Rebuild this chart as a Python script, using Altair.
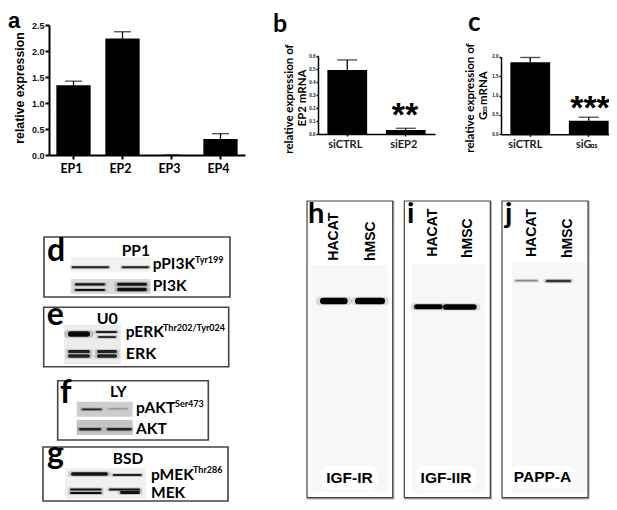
import altair as alt
import pandas as pd

# ---- chart values ----
a_categories = ["EP1", "EP2", "EP3", "EP4"]
a_values = [1.34, 2.24, 0.0, 0.31]
a_tops = [1.42, 2.37, 0.0, 0.41]
a_ticks = [0.0, 0.5, 1.0, 1.5, 2.0, 2.5]

b_categories = ["siCTRL", "siEP2"]
b_values = [0.492, 0.03]
b_tops = [0.57, 0.044]
b_ticks = [0.0, 0.1, 0.2, 0.3, 0.4, 0.5, 0.6]

c_categories = ["siCTRL", "siG"]
c_values = [1.855, 0.35]
c_tops = [1.98, 0.44]
c_ticks = [0.0, 0.5, 1.0, 1.5, 2.0]

OX, OY = 8, 8
SANS = "Liberation Sans"
LATO = "Lato"
layers = []


def bar_panel(cats, vals, tops, ticks, ymax, x_rng, y_rng, pi, po, cap, lab_size, lab_font,
              lab_weight, tick_size, tick_font_size, lab_pad, dom_w, lab_off, lab_color="#000"):
    df = pd.DataFrame({"cat": cats, "val": vals, "top": tops})
    xs = alt.Scale(domain=cats, range=[x_rng[0] - OX, x_rng[1] - OX], paddingInner=pi, paddingOuter=po)
    ys = alt.Scale(domain=[0, ymax], range=[y_rng[0] - OY, y_rng[1] - OY], nice=False)
    x_axis = alt.Axis(orient="bottom", offset=(y_rng[0] - OY - H), title=None, labelAngle=0,
                      labelFont=lab_font, labelFontSize=lab_size, labelFontWeight=lab_weight,
                      labelPadding=lab_pad, labelColor=lab_color, domainColor="#000", domainWidth=dom_w,
                      tickColor="#000", tickWidth=dom_w, tickSize=tick_size, grid=False,
                      labelOffset=lab_off)
    y_axis = alt.Axis(orient="left", offset=-(x_rng[0] - OX), title=None, values=ticks, format=".1f",
                      labelFont=SANS, labelFontSize=tick_font_size, labelFontWeight="bold",
                      labelPadding=1, labelColor="#111", domainColor="#000", domainWidth=dom_w,
                      tickColor="#000", tickWidth=dom_w, tickSize=tick_size, grid=False)
    base = alt.Chart(df)
    layers.append(base.mark_bar(color="#000").encode(
        x=alt.X("cat:N", scale=xs, axis=x_axis, sort=cats),
        y=alt.Y("val:Q", scale=ys, axis=y_axis)))
    layers.append(base.mark_rule(color="#000", strokeWidth=1.3).encode(
        x=alt.X("cat:N", scale=xs, axis=None, sort=cats),
        y=alt.Y("val:Q", scale=ys, axis=None),
        y2="top:Q"))
    layers.append(base.mark_tick(color="#000", size=cap, thickness=1.3).encode(
        x=alt.X("cat:N", scale=xs, axis=None, sort=cats),
        y=alt.Y("top:Q", scale=ys, axis=None)))


def T(x, y, s, size=12, font=LATO, weight="bold", align="left", angle=0, color="#000", baseline="alphabetic"):
    layers.append(alt.Chart().mark_text(text=s, fontSize=size, font=font, fontWeight=weight, align=align,
                                        angle=angle, color=color, baseline=baseline).encode(
        x=alt.value(x - OX), y=alt.value(y - OY)))


def R(x0, y0, x1, y1, fill="#eee", stroke=None, sw=0, radius=0):
    kw = {"fill": fill}
    if stroke:
        kw.update(stroke=stroke, strokeWidth=sw)
    if radius:
        kw["cornerRadius"] = radius
    layers.append(alt.Chart().mark_rect(**kw).encode(
        x=alt.value(x0 - OX), x2=alt.value(x1 - OX), y=alt.value(y0 - OY), y2=alt.value(y1 - OY)))


def B(x0, x1, y, thick=3, color="#111", halo=0.2):
    if halo:
        layers.append(alt.Chart().mark_rule(color=color, opacity=halo, strokeWidth=thick + 2, strokeCap="round").encode(
            x=alt.value(x0 - OX), x2=alt.value(x1 - OX), y=alt.value(y - OY)))
    layers.append(alt.Chart().mark_rule(color=color, strokeWidth=thick, strokeCap="round").encode(
        x=alt.value(x0 - OX + thick / 2), x2=alt.value(x1 - OX - thick / 2), y=alt.value(y - OY)))


W, H = 601, 494

# ---- panels a, b, c ----
bar_panel(a_categories, a_values, a_tops, a_ticks, 2.5, (49, 245), (155, 25), 0.3, 0.15, 17, 12.5, LATO, "bold",
          4, 9, 3, 2, -2)
bar_panel(b_categories, b_values, b_tops, b_ticks, 0.6, (318, 435), (134, 56), 0.32, 0.16, 20, 11, LATO, "bold",
          2, 4.5, 2, 1.5, -2, "#222")
bar_panel(c_categories, c_values, c_tops, c_ticks, 2.0, (501, 618), (134.3, 56.7), 0.32, 0.16, 20, 11, LATO, "bold",
          2, 4.5, 2, 1.5, -5, "#222")

T(0 + OX, 28, "a", 22, SANS)
T(273, 32, "b", 25)
T(468, 31, "c", 26)
T(24, 88, "relative expression", 12.3, SANS, "bold", "center", 270)
T(293, 99, "relative expression of", 11.5, LATO, "bold", "center", 270)
T(306, 98, "EP2 mRNA", 11.5, LATO, "bold", "center", 270)
T(474, 98, "relative expression of", 11.5, LATO, "bold", "center", 270)
T(487, 120, "G", 11.5, LATO, "bold", "left", 270)
T(487, 113, "αs", 6.5, LATO, "bold", "left", 270)
T(487, 105, "mRNA", 11.5, LATO, "bold", "left", 270)
T(590.5, 147.5, "αs", 6.5, LATO, "bold")
T(405, 126, "**", 34, SANS, "bold", "center")
T(590, 119, "***", 34, SANS, "bold", "center")

# ---- panel d ----
R(44, 237, 230, 297, "#fff", "#444", 1.6)
R(70.7, 256.7, 150.7, 271.7, "#f2f2f2")
R(70.7, 279, 150.7, 294, "#dcdcdc")
B(71.7, 109, 267.3, 2, "#222")
B(121.7, 149, 267.3, 2, "#222")
B(75, 105, 284.3, 2.2, "#111")
B(75, 105, 290, 2.2, "#111")
B(117, 147, 284.3, 3, "#111")
B(117, 147, 289.5, 3.4, "#111")
T(47, 261, "d", 32)
T(121.7, 256, "PP1", 15.5)
T(152.7, 269, "pPI3K", 15.5)
T(195, 263, "Tyr199", 9)
T(152.7, 290.7, "PI3K", 15.5)

# ---- panel e ----
R(43.7, 307.3, 228.7, 366.7, "#fff", "#444", 1.6)
R(64, 325, 121, 364, "#ececec")
B(68, 90, 334, 5.5, "#080808")
B(96, 117, 332, 2.2, "#222")
B(98, 116, 337, 2, "#333")
B(68, 90, 351.5, 3, "#222")
B(68, 90, 356, 3.4, "#222")
B(97, 117, 351.5, 3, "#222")
B(97, 117, 356, 3.4, "#222")
T(46.7, 325, "e", 32)
T(96.7, 324, "U0", 16)
T(125.7, 336.7, "pERK", 15.5)
T(163, 330.7, "Thr202/Tyr024", 9)
T(125.7, 358.7, "ERK", 16)

# ---- panel f ----
R(57.7, 380.7, 208.3, 440, "#fff", "#444", 1.6)
R(76.7, 401.7, 132.7, 416.7, "#cdcdcd")
R(76.7, 420, 132.7, 435, "#c4c4c4")
B(81.7, 101.7, 409.3, 1.8, "#222")
B(108, 128, 408.8, 1.4, "#999", 0.2)
B(79, 101, 429.3, 2.4, "#222")
B(107, 131.7, 429.3, 2.4, "#222")
T(60, 403, "f", 32)
T(110, 396.7, "LY", 15.5)
T(136, 413, "pAKT", 15.5)
T(175, 407, "Ser473", 9)
T(136, 434, "AKT", 15.5)

# ---- panel g (bottom edge pulled in to stay inside the page) ----
R(43, 447, 228, 501, "#fff", "#444", 1.6)
R(65, 468, 146, 499, "#f0f0f0")
B(71, 108, 474, 3.6, "#111")
B(112.7, 141.7, 475, 1.8, "#222")
B(70, 101.7, 489.5, 2, "#111")
B(70, 101.7, 493, 2, "#111")
B(109, 140, 489.5, 1.8, "#111")
B(120, 140, 492.5, 2.8, "#111")
T(47, 464, "g", 32)
T(112.7, 464, "BSD", 15.5)
T(151, 480, "pMEK", 15.5)
T(193, 473, "Thr286", 9)
T(151, 498, "MEK", 15.5)

# ---- panels h, i, j ----
for x0, x1 in [(307, 392.7), (404.3, 490.3), (502, 588)]:
    R(x0 + 0.8, 201.8, x1 + 0.8, 498.6, "#fff", "#aaa", 1.6)
    R(x0, 201, x1, 497.7, "#fff", "#444", 1.2)
R(311, 265, 387.7, 491.7, "#f7f7f7")
R(412, 264, 485, 493, "#f7f7f7")
R(512, 262.7, 587, 493, "#f7f7f7")
R(321, 465, 378, 490, "#fff", radius=9)
R(416, 465, 476, 490, "#fff", radius=9)
R(510, 465, 575, 488, "#fff", radius=9)
B(320, 347.7, 301, 6.5, "#000", 0.12)
B(355, 385, 301, 6.5, "#000", 0.12)
B(414, 442.7, 306.7, 5, "#000", 0.12)
B(443, 476.7, 307, 5.5, "#000", 0.12)
B(515, 537.7, 280.7, 1.8, "#888", 0.2)
B(545.7, 571, 281, 2.5, "#333", 0.2)

T(308, 223, "h", 29)
T(407, 223, "i", 29)
T(505, 223, "j", 29)
for x, y, s in [(334.3, 260.7, "HACAT"), (371, 261, "hMSC"), (432.7, 256.7, "HACAT"), (468, 258, "hMSC"),
                (531.7, 257, "HACAT"), (567.7, 258, "hMSC")]:
    T(x, y, s, 14, SANS, "bold", "left", 270, baseline="middle")
T(349.5, 483, "IGF-IR", 15.5, SANS, "bold", "center")
T(446, 483, "IGF-IIR", 15.5, SANS, "bold", "center")
T(542.5, 482, "PAPP-A", 15.5, SANS, "bold", "center")

chart = alt.layer(*layers).resolve_scale(x="independent", y="independent").resolve_axis(
    x="independent", y="independent"
).properties(width=W, height=H, padding=0, autosize=alt.AutoSizeParams(type="none")).configure_view(stroke=None)

chart.save("out.html", embed_options={"renderer": "svg", "actions": False})
